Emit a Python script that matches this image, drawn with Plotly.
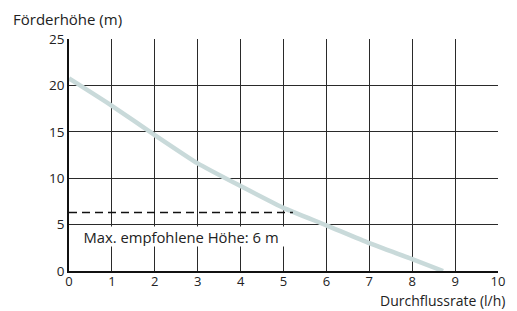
import plotly.graph_objects as go

# Data
flow = [0, 1, 2, 3, 4, 5, 6, 7, 8, 8.72]
head = [20.75, 17.8, 14.65, 11.6, 9.15, 6.8, 4.92, 3.0, 1.28, 0]
limit_x = [0, 5.22]
limit_y = [6.3, 6.3]
x_ticks = [0, 1, 2, 3, 4, 5, 6, 7, 8, 9, 10]
y_ticks = [0, 5, 10, 15, 20, 25]
limit_label = "Max. empfohlene Höhe: 6 m"
x_title = "Durchflussrate (l/h)"
y_title = "Förderhöhe (m)"

FONT = "Open Sans"
TXT = "#222222"

fig = go.Figure()
fig.add_trace(go.Scatter(x=flow, y=head, mode="lines",
                         line=dict(color="#c9dada", width=4.5, shape="spline", smoothing=0.5),
                         hoverinfo="skip", showlegend=False))
fig.add_trace(go.Scatter(x=limit_x, y=limit_y, mode="lines",
                         line=dict(color="#111111", width=1.5, dash="8px,5px"),
                         hoverinfo="skip", showlegend=False))

fig.add_annotation(x=2.6, y=3.75, xref="x", yref="y", text=limit_label, showarrow=False,
                   bgcolor="white", width=216, height=19, borderpad=0,
                   font=dict(family=FONT, size=14.8, color=TXT))

fig.add_annotation(x=0, y=1, xref="paper", yref="paper", xanchor="left", yanchor="bottom",
                   xshift=-58, yshift=8, text=y_title, showarrow=False,
                   font=dict(family=FONT, size=15, color=TXT))
fig.add_annotation(x=1, y=0, xref="paper", yref="paper", xanchor="right", yanchor="top",
                   xshift=8, yshift=-19, text=x_title, showarrow=False, borderpad=0,
                   font=dict(family=FONT, size=14, color=TXT))

fig.update_xaxes(range=[0, 10], tickvals=x_ticks, showgrid=True, gridcolor="#2a2a2a", gridwidth=1,
                 showline=True, linecolor="#111111", linewidth=1.5, zeroline=False,
                 ticks="", ticklabelstandoff=-2,
                 tickfont=dict(family=FONT, size=13, color=TXT), fixedrange=True)
fig.update_yaxes(range=[0, 25], tickvals=y_ticks, showgrid=True, gridcolor="#2a2a2a", gridwidth=1,
                 showline=True, linecolor="#111111", linewidth=1.5, zeroline=False,
                 ticks="", tickfont=dict(family=FONT, size=13.5, color=TXT), fixedrange=True)

fig.update_layout(width=517, height=311, margin=dict(l=69, r=15, t=39, b=40),
                  plot_bgcolor="white", paper_bgcolor="white",
                  font=dict(family=FONT, size=14, color=TXT))

fig.write_html("out.html", config={"displayModeBar": False},
               post_script="document.body.style.margin='0';document.body.style.overflow='hidden';")
